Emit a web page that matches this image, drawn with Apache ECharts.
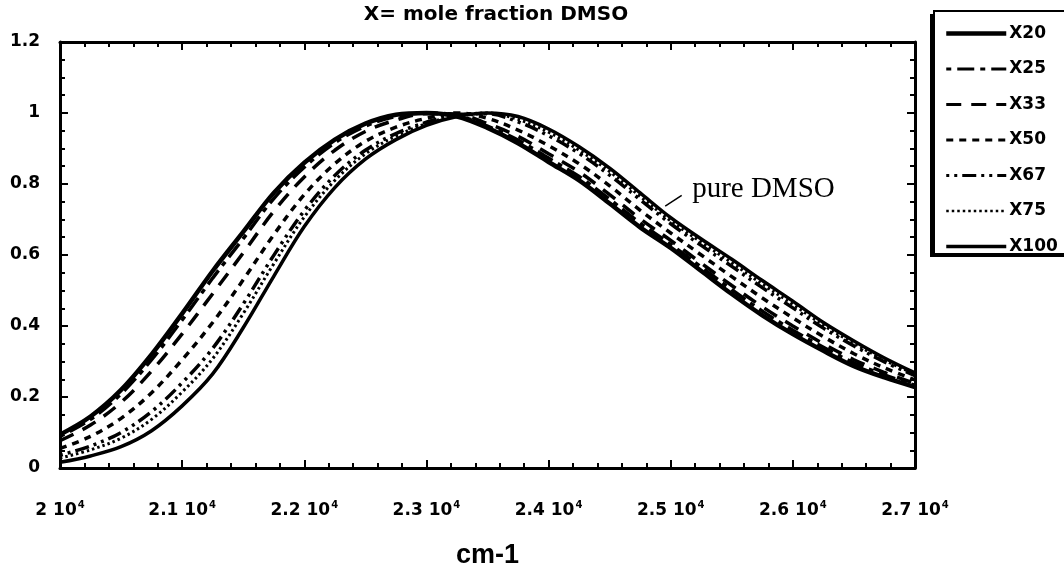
<!DOCTYPE html>
<html><head><meta charset="utf-8">
<script src="https://cdn.jsdelivr.net/npm/echarts@6/dist/echarts.min.js"></script>
<style>html,body{margin:0;padding:0;background:#fff}#c{width:1064px;height:574px}</style>
</head><body><div id="c"></div>
<script>
// wavenumber grid (cm-1)
const wavenumbers = [20000,20250,20500,20750,21000,21250,21500,21750,22000,22250,22500,22750,23000,23250,23500,23750,24000,24250,24500,24750,25000,25250,25500,25750,26000,26250,26500,26750,27000];
const X20  = [0.094,0.145,0.22,0.32,0.435,0.555,0.665,0.775,0.86,0.925,0.97,0.995,1.0,0.99,0.958,0.915,0.862,0.81,0.745,0.678,0.62,0.555,0.49,0.43,0.377,0.33,0.287,0.255,0.228];
const X25  = [0.089,0.137,0.209,0.305,0.417,0.535,0.646,0.759,0.847,0.916,0.963,0.99,1.0,0.993,0.963,0.924,0.873,0.821,0.757,0.69,0.63,0.566,0.502,0.442,0.388,0.34,0.296,0.262,0.233];
const X33  = [0.077,0.121,0.185,0.273,0.378,0.491,0.606,0.723,0.82,0.895,0.948,0.98,0.998,0.997,0.97,0.934,0.885,0.834,0.77,0.702,0.641,0.577,0.514,0.454,0.40,0.35,0.305,0.269,0.238];
const X50  = [0.055,0.089,0.14,0.212,0.305,0.41,0.53,0.657,0.77,0.857,0.92,0.96,0.985,1.0,0.985,0.952,0.908,0.857,0.795,0.726,0.662,0.60,0.539,0.479,0.423,0.37,0.322,0.282,0.248];
const X67  = [0.036,0.062,0.10,0.159,0.24,0.337,0.462,0.599,0.725,0.824,0.895,0.942,0.974,0.995,0.998,0.975,0.936,0.886,0.825,0.756,0.688,0.627,0.568,0.508,0.451,0.394,0.344,0.299,0.26];
const X75  = [0.028,0.051,0.084,0.137,0.214,0.308,0.435,0.575,0.707,0.81,0.885,0.935,0.97,0.993,1.0,0.982,0.946,0.895,0.835,0.765,0.696,0.636,0.578,0.518,0.461,0.402,0.351,0.304,0.264];
const X100 = [0.016,0.034,0.06,0.105,0.175,0.265,0.395,0.54,0.68,0.79,0.87,0.925,0.965,0.99,1.0,0.99,0.955,0.905,0.845,0.775,0.705,0.645,0.588,0.528,0.47,0.41,0.358,0.31,0.268];

const seriesNames = ['X20','X25','X33','X50','X67','X75','X100'];
const seriesValues = [X20,X25,X33,X50,X67,X75,X100];
const xTickMantissa = ['2','2.1','2.2','2.3','2.4','2.5','2.6','2.7'];
const xTickExponent = '4';
const yTickLabels = ['0','0.2','0.4','0.6','0.8','1','1.2'];
const annotationText = 'pure DMSO';
const arrowFrom = [25090, 0.768];
const arrowTo = [24955, 0.738];
const labelAt = [25200, 0.785];

const styles = [
  {width:4.5, legendWidth:4.5, type:'solid'},
  {width:3.5, legendWidth:3, type:[5,6,17,6]},
  {width:3.5, legendWidth:3, type:[15,10]},
  {width:3.5, legendWidth:3, type:[7,6]},
  {width:3.5, legendWidth:3, type:[3,5,3,5,14,5]},
  {width:3, legendWidth:2.5, type:[2.5,3]},
  {width:3.5, legendWidth:3.5, type:'solid'}
];

const FONT = 'DejaVu Sans';
const chart = echarts.init(document.getElementById('c'), null, {renderer:'canvas'});

const axisCommon = {
  axisLine:{show:true, onZero:false, lineStyle:{color:'#000', width:3}},
  axisTick:{show:true, inside:true, length:8, lineStyle:{color:'#000', width:2}},
  splitLine:{show:false}
};

const series = seriesNames.map((n,k)=>({
  name:n, type:'line', xAxisIndex:0, yAxisIndex:0,
  data: wavenumbers.map((x,i)=>[x, seriesValues[k][i]]),
  smooth:0.35, symbol:'none', showSymbol:false,
  lineStyle:{color:'#000', width:styles[k].width, type:styles[k].type},
  itemStyle:{color:'#000'},
  z: 10-k,
  animation:false
}));

series[6].markLine = {
  silent:true, symbol:['none','none'],
  lineStyle:{color:'#000', width:1.5, type:'solid'},
  label:{show:false},
  data:[[{coord:arrowFrom},{coord:arrowTo}]]
};
series[6].markPoint = {
  silent:true, symbol:'circle', symbolSize:0,
  data:[{coord:labelAt}],
  label:{show:true, formatter:annotationText, position:'right', offset:[-8,0], color:'#000',
    fontFamily:'Liberation Serif', fontSize:29}
};

chart.setOption({
  animation:false,
  backgroundColor:'#fff',
  title:{text:'X= mole fraction DMSO', left:491, top:0, textAlign:'center',
    textStyle:{fontFamily:FONT, fontWeight:'bold', fontSize:20, color:'#000'}},
  graphic:[
    {type:'rect', left:930, top:14, z:1, silent:true, shape:{width:150, height:243}, style:{fill:'#000'}},
    {type:'rect', left:933, top:10, z:2, silent:true, shape:{width:150, height:243}, style:{fill:'#fff', stroke:'#000', lineWidth:2}}
  ],
  legend:{
    orient:'vertical', left:933, top:10, z:10,
    data: seriesNames.map((n,k)=>({name:n, lineStyle:{color:'#000', width:styles[k].legendWidth, type:styles[k].type}})),
    itemWidth:60, itemHeight:14, itemGap:18.5,
    padding:[15,20,17,11],
    itemStyle:{color:'rgba(0,0,0,0)', borderColor:'rgba(0,0,0,0)', borderWidth:0},
    textStyle:{fontFamily:FONT, fontWeight:'bold', fontSize:17, color:'#000', padding:[0,0,0,-2]},
    selectedMode:false
  },
  grid:{left:60, right:149, top:42, bottom:90, containLabel:false},
  xAxis:[
    Object.assign({}, axisCommon, {
      type:'value', position:'bottom', min:20000, max:27000, interval:1000,
      minorTick:{show:true, splitNumber:5, length:5, lineStyle:{color:'#000', width:2}},
      axisLabel:{show:true, margin:32, color:'#000',
        formatter:(v)=>{const i=Math.round((v-20000)/1000); return '{m|'+xTickMantissa[i]+' 10}{e|'+xTickExponent+'}';},
        rich:{m:{fontFamily:FONT, fontWeight:'bold', fontSize:17, color:'#000'},
              e:{fontFamily:FONT, fontWeight:'bold', fontSize:10, color:'#000', padding:[0,0,12,1]}}},
      name:'cm-1', nameLocation:'middle', nameGap:74,
      nameTextStyle:{fontFamily:'Liberation Sans', fontWeight:'bold', fontSize:27, color:'#000'}
    }),
    Object.assign({}, axisCommon, {
      type:'value', position:'top', min:20000, max:27000, interval:1000,
      minorTick:{show:true, splitNumber:5, length:5, lineStyle:{color:'#000', width:2}},
      axisLabel:{show:false}
    })
  ],
  yAxis:[
    Object.assign({}, axisCommon, {
      type:'value', position:'left', min:0, max:1.2, interval:0.2,
      minorTick:{show:true, splitNumber:4, length:5, lineStyle:{color:'#000', width:2}},
      axisLabel:{show:true, margin:20, color:'#000', fontFamily:FONT, fontWeight:'bold', fontSize:17,
        formatter:(v)=>yTickLabels[Math.round(v/0.2)]}
    }),
    Object.assign({}, axisCommon, {
      type:'value', position:'right', min:0, max:1.2, interval:0.2,
      minorTick:{show:true, splitNumber:4, length:5, lineStyle:{color:'#000', width:2}},
      axisLabel:{show:false}
    })
  ],
  series: series
});
</script></body></html>
